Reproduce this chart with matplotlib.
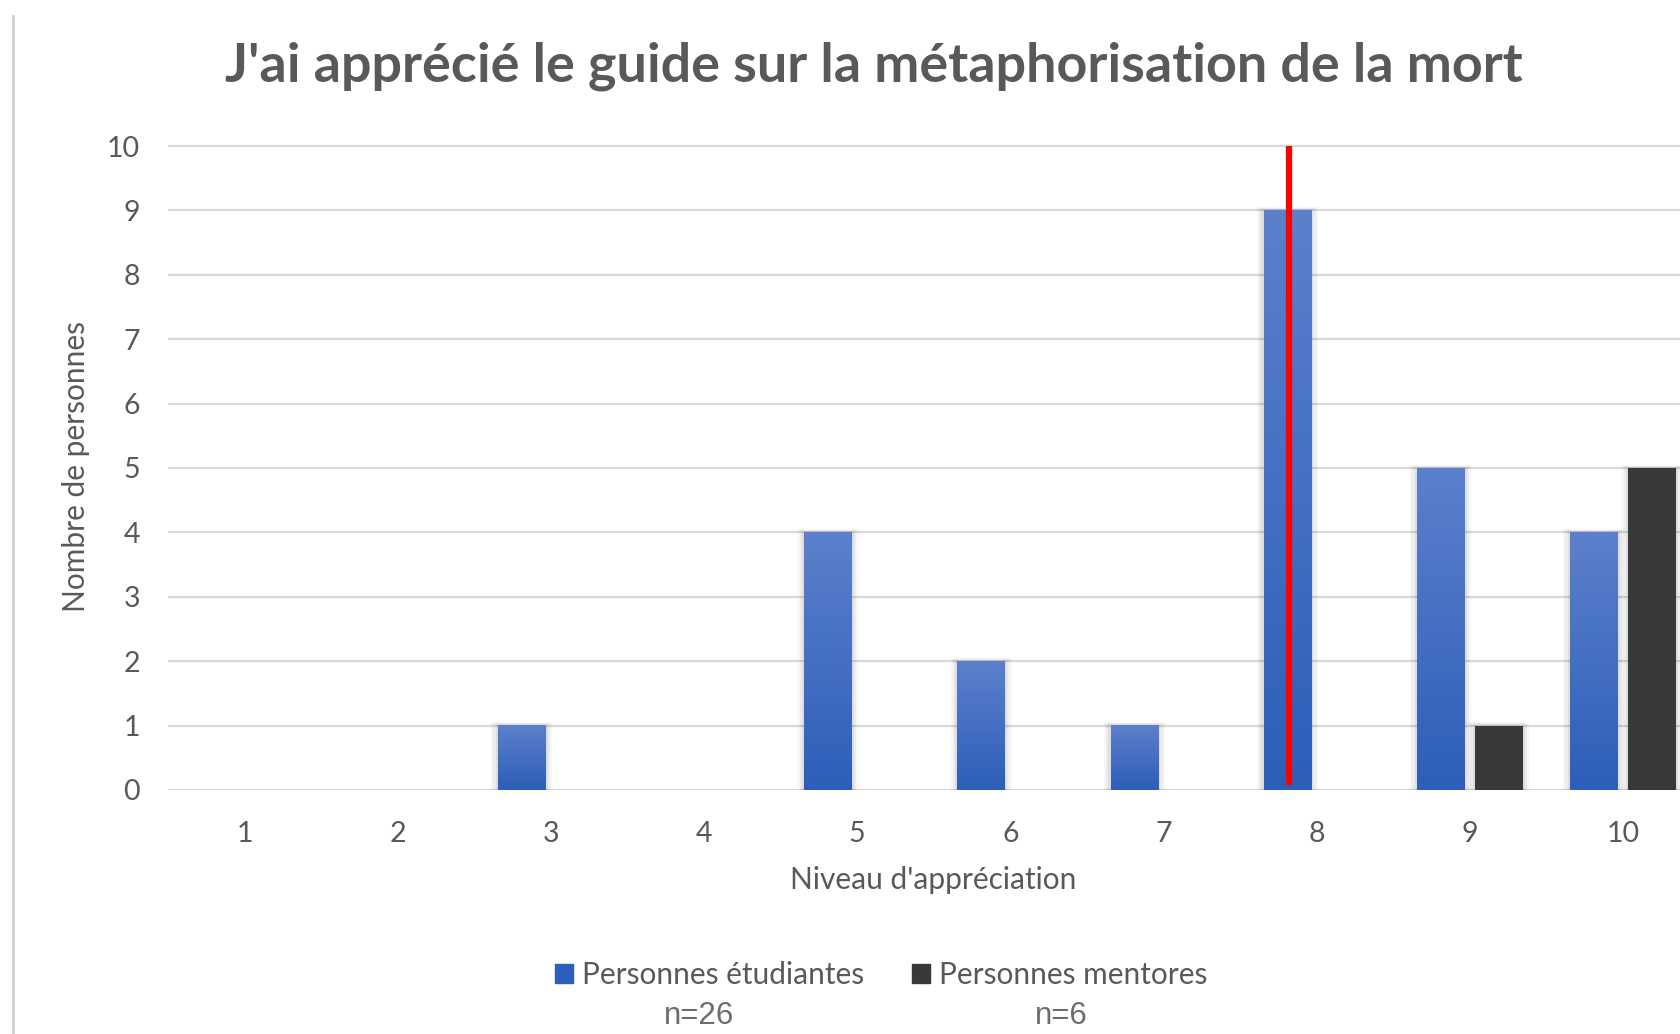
import numpy as np
import matplotlib.pyplot as plt
from matplotlib.patches import Rectangle
from matplotlib.lines import Line2D

# Data
niveaux = [1, 2, 3, 4, 5, 6, 7, 8, 9, 10]
etudiants = [0, 0, 1, 0, 4, 2, 1, 9, 5, 4]
mentors = [0, 0, 0, 0, 0, 0, 0, 0, 1, 5]
repere_x = 7.82   # red marker line
repere_top = 10

title = "J'ai apprécié le guide sur la métaphorisation de la mort"
n_labels = ["n=26", "n=6"]

grey_txt = "#595959"
blue_top = np.array([0x5C, 0x80, 0xCB]) / 255
blue_bot = np.array([0x2D, 0x5E, 0xB9]) / 255
dark = "#393939"

plt.rcParams['font.family'] = ['Lato', 'DejaVu Sans']

fig = plt.figure(figsize=(16.81, 10.34), dpi=100)
ax = fig.add_axes([168 / 1681, 0.2360, 1 - 168 / 1681, 0.8619 - 0.2360])

width = 0.31
offset = 0.19

# vertical gradient image for the blue bars
grad = np.linspace(0, 1, 256)[:, None]
grad_img = blue_bot[None, None, :] * (1 - grad[..., None]) + blue_top[None, None, :] * grad[..., None]
grad_img = np.repeat(grad_img, 2, axis=1)


def shadow(x0, h):
    for k, a in [(0.045, 0.03), (0.03, 0.045), (0.015, 0.06)]:
        ax.add_patch(Rectangle((x0 - k, 0), width + 2 * k, h + k * 1.2,
                               color="black", alpha=a, lw=0, zorder=2))


for x, v in zip(niveaux, etudiants):
    x0 = x - offset - width / 2
    if v > 0:
        shadow(x0, v)
        ax.imshow(grad_img, extent=(x0, x0 + width, 0, v), origin="lower",
                  aspect="auto", zorder=3, interpolation="bilinear")

for x, v in zip(niveaux, mentors):
    x0 = x + offset - width / 2
    if v > 0:
        shadow(x0, v)
        ax.add_patch(Rectangle((x0, 0), width, v, color=dark, lw=0, zorder=3))

ax.plot([repere_x, repere_x], [0.08, repere_top], color="#FF0000", lw=4.5,
        solid_capstyle="butt", zorder=5)

ax.set_xlim(0.5, 10.38)
ax.set_ylim(0, 10.05)
ax.set_yticks(range(0, 11))
ax.set_xticks(niveaux)
ax.yaxis.grid(True, color="#D9D9D9", lw=1.6)
ax.set_axisbelow(True)
for s in ax.spines.values():
    s.set_visible(False)
ax.tick_params(length=0, labelsize=20.5, labelcolor=grey_txt)
ax.tick_params(axis="y", pad=20)
ax.tick_params(axis="x", pad=22)

ax.set_xlabel("Niveau d'appréciation", fontsize=21.5, color=grey_txt, labelpad=14)
ax.xaxis.set_label_coords(0.5056, -0.118)
ax.set_ylabel("Nombre de personnes", fontsize=21.5, color=grey_txt, labelpad=12)

fig.text(0.5198, 1 - 66 / 1034, title, ha="center", va="center",
         fontsize=38.8, fontweight="bold", color=grey_txt)

handles = [Rectangle((0, 0), 1, 1, color=blue_bot), Rectangle((0, 0), 1, 1, color=dark)]
fig.legend(handles, ["Personnes étudiantes", "Personnes mentores"], ncol=2,
           loc="center", bbox_to_anchor=(881 / 1681, 1 - 975 / 1034), frameon=False,
           fontsize=21.5, labelcolor=grey_txt, handlelength=0.6, handleheight=0.6,
           handletextpad=0.3, columnspacing=1.6)

for xp, t in zip([699, 1061], n_labels):
    fig.text(xp / 1681, 1 - 1016 / 1034, t, ha="center", va="center",
             fontsize=22.5, color="#6D6D6D", family="Liberation Sans")

# chart frame edge on the left
fig.add_artist(Line2D([13 / 1681, 13 / 1681], [0, 1 - 16 / 1034], color="#D0D0D0", lw=2))

fig.savefig("out.png", dpi=100)
